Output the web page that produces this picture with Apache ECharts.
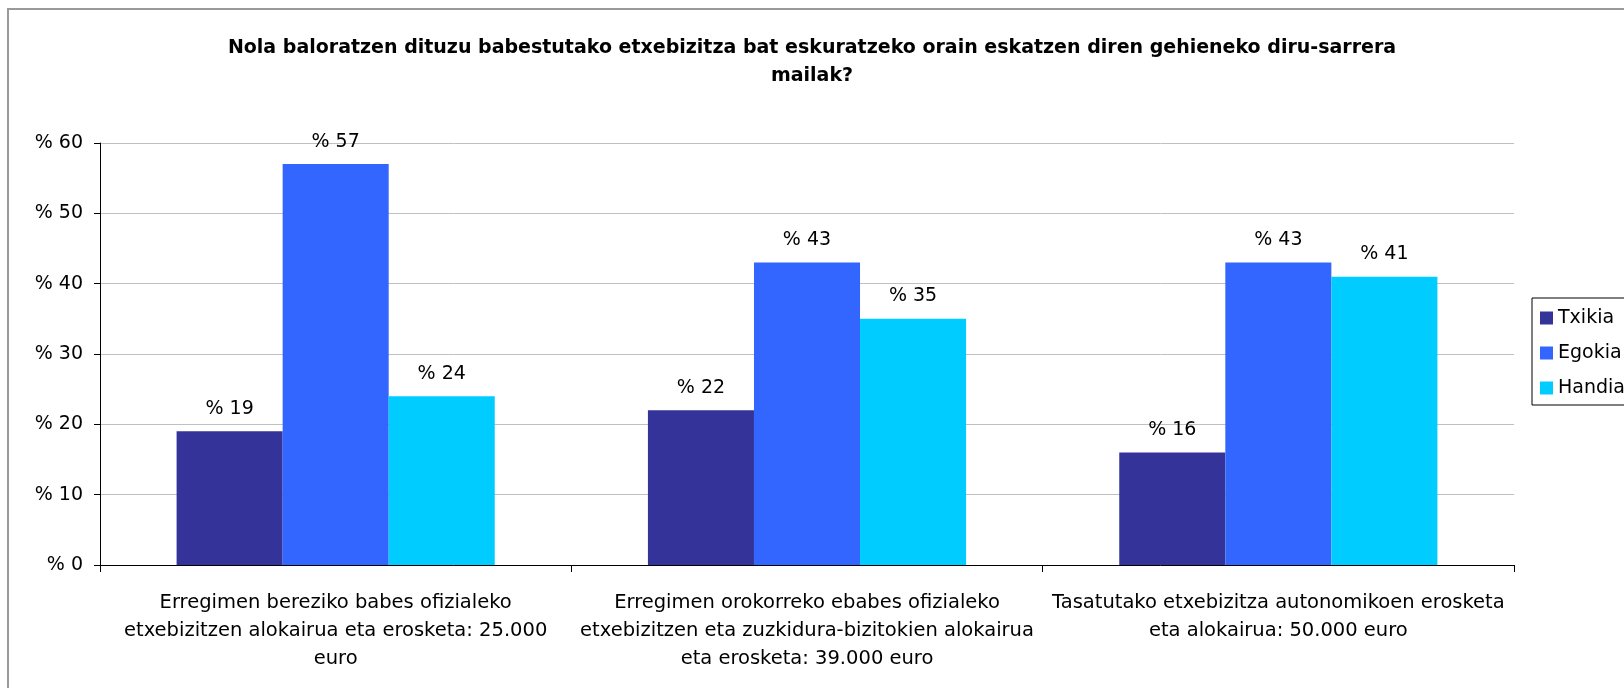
<!DOCTYPE html>
<html>
<head>
<meta charset="utf-8">
<script src="https://cdn.jsdelivr.net/npm/echarts@6/dist/echarts.min.js"></script>
<style>
    html, body { margin: 0; padding: 0; background: #fff; }
    #chart { width: 1624px; height: 688px; }
</style>
</head>
<body>
<div id="chart"></div>
<script>
const categories = [
    'Erregimen bereziko babes ofizialeko\netxebizitzen alokairua eta erosketa: 25.000\neuro',
    'Erregimen orokorreko ebabes ofizialeko\netxebizitzen eta zuzkidura-bizitokien alokairua\neta erosketa: 39.000 euro',
    'Tasatutako etxebizitza autonomikoen erosketa\neta alokairua: 50.000 euro',
]
const txikia = [19, 22, 16]
const egokia = [57, 43, 43]
const handia = [24, 35, 41]
const yTicks = [0, 10, 20, 30, 40, 50, 60]

const font = 'DejaVu Sans'

const barSeries = (name, data, color) => ({
    name: name,
    type: 'bar',
    data: data,
    barGap: 0,
    barCategoryGap: '32.5%',
    itemStyle: { color: color },
    label: {
        show: true,
        position: 'top',
        distance: 13,
        formatter: '% {c}',
        color: '#000',
        fontFamily: font,
        fontSize: 19,
    },
})

let option = {
    animation: false,
    backgroundColor: '#fff',
    title: {
        text: 'Nola baloratzen dituzu babestutako etxebizitza bat eskuratzeko orain eskatzen diren gehieneko diru-sarrera\nmailak?',
        left: 'center',
        top: 29,
        textStyle: {
            fontFamily: font,
            fontSize: 19,
            fontWeight: 'bold',
            color: '#000',
            lineHeight: 28,
        },
    },
    graphic: [
        {
            type: 'rect',
            shape: { x: 8, y: 9, width: 1700, height: 800 },
            style: { fill: 'none', stroke: '#9a9a9a', lineWidth: 2 },
            silent: true,
        },
    ],
    legend: {
        orient: 'vertical',
        left: 1532,
        top: 298,
        padding: [9, 12, 6, 8],
        itemGap: 13,
        itemWidth: 13,
        itemHeight: 13,
        borderColor: '#000',
        borderWidth: 1,
        icon: 'rect',
        textStyle: { fontFamily: font, fontSize: 19, color: '#000', lineHeight: 22 },
        data: ['Txikia', 'Egokia', 'Handia'],
    },
    grid: {
        left: 100,
        right: 110,
        top: 143,
        bottom: 123,
        containLabel: false,
    },
    xAxis: {
        type: 'category',
        data: categories,
        axisLine: { lineStyle: { color: '#000', width: 1 } },
        axisTick: { show: true, length: 7, lineStyle: { color: '#000' } },
        axisLabel: {
            interval: 0,
            margin: 24,
            color: '#000',
            fontFamily: font,
            fontSize: 19.5,
            lineHeight: 28,
        },
    },
    yAxis: {
        type: 'value',
        min: yTicks[0],
        max: yTicks[yTicks.length - 1],
        interval: yTicks[1] - yTicks[0],
        axisLine: { show: true, lineStyle: { color: '#000' } },
        axisTick: { show: true, length: 6, lineStyle: { color: '#000' } },
        splitLine: { lineStyle: { color: '#c0c0c0' } },
        axisLabel: {
            margin: 17,
            formatter: '% {value}',
            color: '#000',
            fontFamily: font,
            fontSize: 19,
        },
    },
    series: [
        barSeries('Txikia', txikia, '#333399'),
        barSeries('Egokia', egokia, '#3366ff'),
        barSeries('Handia', handia, '#00ccff'),
    ],
}

let myChart = echarts.init(document.getElementById('chart'))
myChart.setOption(option, true)
</script>
</body>
</html>
